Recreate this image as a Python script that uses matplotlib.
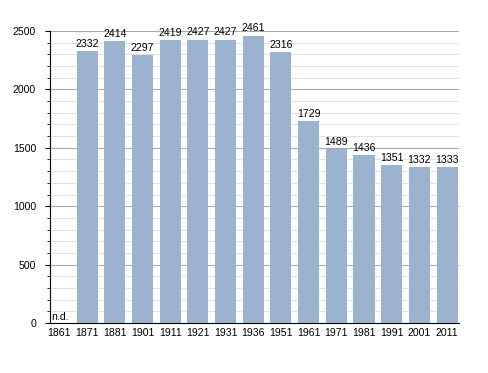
import numpy as np
import matplotlib.pyplot as plt
from matplotlib.ticker import MultipleLocator

plt.rcParams['font.family'] = ['Liberation Sans', 'DejaVu Sans']

anni = ['1861', '1871', '1881', '1901', '1911', '1921', '1931', '1936',
        '1951', '1961', '1971', '1981', '1991', '2001', '2011']
abitanti = [None, 2332, 2414, 2297, 2419, 2427, 2427, 2461,
            2316, 1729, 1489, 1436, 1351, 1332, 1333]

fig = plt.figure(figsize=(4.88, 3.73), dpi=100)
ax = fig.add_axes([50/488, 50/373, 409/488, 292/373])

fs = 7.6
x = np.arange(len(anni))
for i, v in enumerate(abitanti):
    if v is None:
        # dato non disponibile
        ax.text(i - 0.28, 12, 'n.d.', ha='left', va='bottom', fontsize=fs)
        continue
    ax.bar(i, v, width=0.76, color='#9bb3ce', zorder=2)
    ax.annotate(str(v), (i, v), xytext=(0, 1.5), textcoords='offset points',
                ha='center', va='bottom', fontsize=fs)

ax.set_xlim(-0.34, 14.43)
ax.set_ylim(0, 2500)
ax.set_xticks(x)
ax.set_xticklabels(anni, fontsize=fs)
ax.tick_params(axis='x', length=0, pad=3.5)
ax.yaxis.set_major_locator(MultipleLocator(500))
ax.yaxis.set_minor_locator(MultipleLocator(100))
ax.tick_params(axis='y', which='major', length=3.5, labelsize=fs, pad=6.5)
ax.tick_params(axis='y', which='minor', length=2.5)
ax.grid(axis='y', which='major', color='#a8a8a8', linewidth=0.8, zorder=0)
ax.grid(axis='y', which='minor', color='#e2e2e2', linewidth=0.8, zorder=0)
ax.set_axisbelow(True)
for s in ['top', 'right']:
    ax.spines[s].set_visible(False)
ax.spines['left'].set_linewidth(0.8)
ax.spines['bottom'].set_linewidth(0.8)

fig.savefig('out.png', dpi=100)
